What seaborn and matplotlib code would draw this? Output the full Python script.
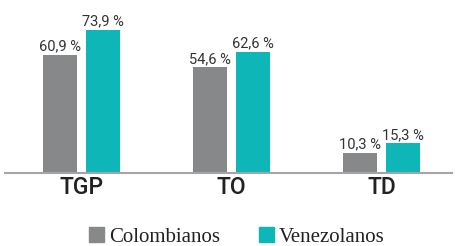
import pandas as pd
import matplotlib.pyplot as plt
import seaborn as sns
from matplotlib.patches import Patch

# Datos
indicadores = ['TGP', 'TO', 'TD']
colombianos = [60.9, 54.6, 10.3]
venezolanos = [73.9, 62.6, 15.3]
grupos = ['Colombianos', 'Venezolanos']
colores = ['#87888a', '#0fb6b8']

df = pd.DataFrame({
    'indicador': indicadores * 2,
    'valor': colombianos + venezolanos,
    'grupo': [grupos[0]] * 3 + [grupos[1]] * 3,
})

sns.set_style('white')

fig = plt.figure(figsize=(4.58, 2.46), dpi=100)
ax = fig.add_axes([5 / 458, 73 / 246, 447 / 458, 173 / 246])

sns.barplot(data=df, x='indicador', y='valor', hue='grupo', palette=colores,
            width=0.573, gap=0.21, ax=ax, legend=False, saturation=1,
            linewidth=0, edgecolor='none')

# Etiquetas de valor con coma decimal
for cont in ax.containers:
    etiquetas = [f"{b.get_height():.1f}".replace('.', ',') + ' %' for b in cont]
    ax.bar_label(cont, labels=etiquetas, padding=1, fontsize=10.5,
                 family='Roboto', color='#333333')

ax.set_xlim(-0.51, 2.47)
ax.set_ylim(0, 89.4)
ax.set_xlabel('')
ax.set_ylabel('')
ax.set_yticks([])
for s in ['top', 'right', 'left']:
    ax.spines[s].set_visible(False)
ax.spines['bottom'].set_color('#a5a5a5')
ax.spines['bottom'].set_linewidth(1.5)
ax.tick_params(axis='x', length=0, pad=2)
for t in ax.get_xticklabels():
    t.set_fontsize(16.5)
    t.set_family('Roboto')
    t.set_fontweight('medium')
    t.set_color('#222222')

# Leyenda
handles = [Patch(color=c, label=g) for c, g in zip(colores, grupos)]
fig.legend(handles=handles, loc='center', bbox_to_anchor=(237 / 458, 1 - 237 / 246),
           ncol=2, frameon=False, prop={'family': 'Liberation Serif', 'size': 15},
           handlelength=0.7, handleheight=0.7, handletextpad=0.25,
           columnspacing=1.9, labelcolor='#222222')

plt.savefig('out.png', dpi=100)
